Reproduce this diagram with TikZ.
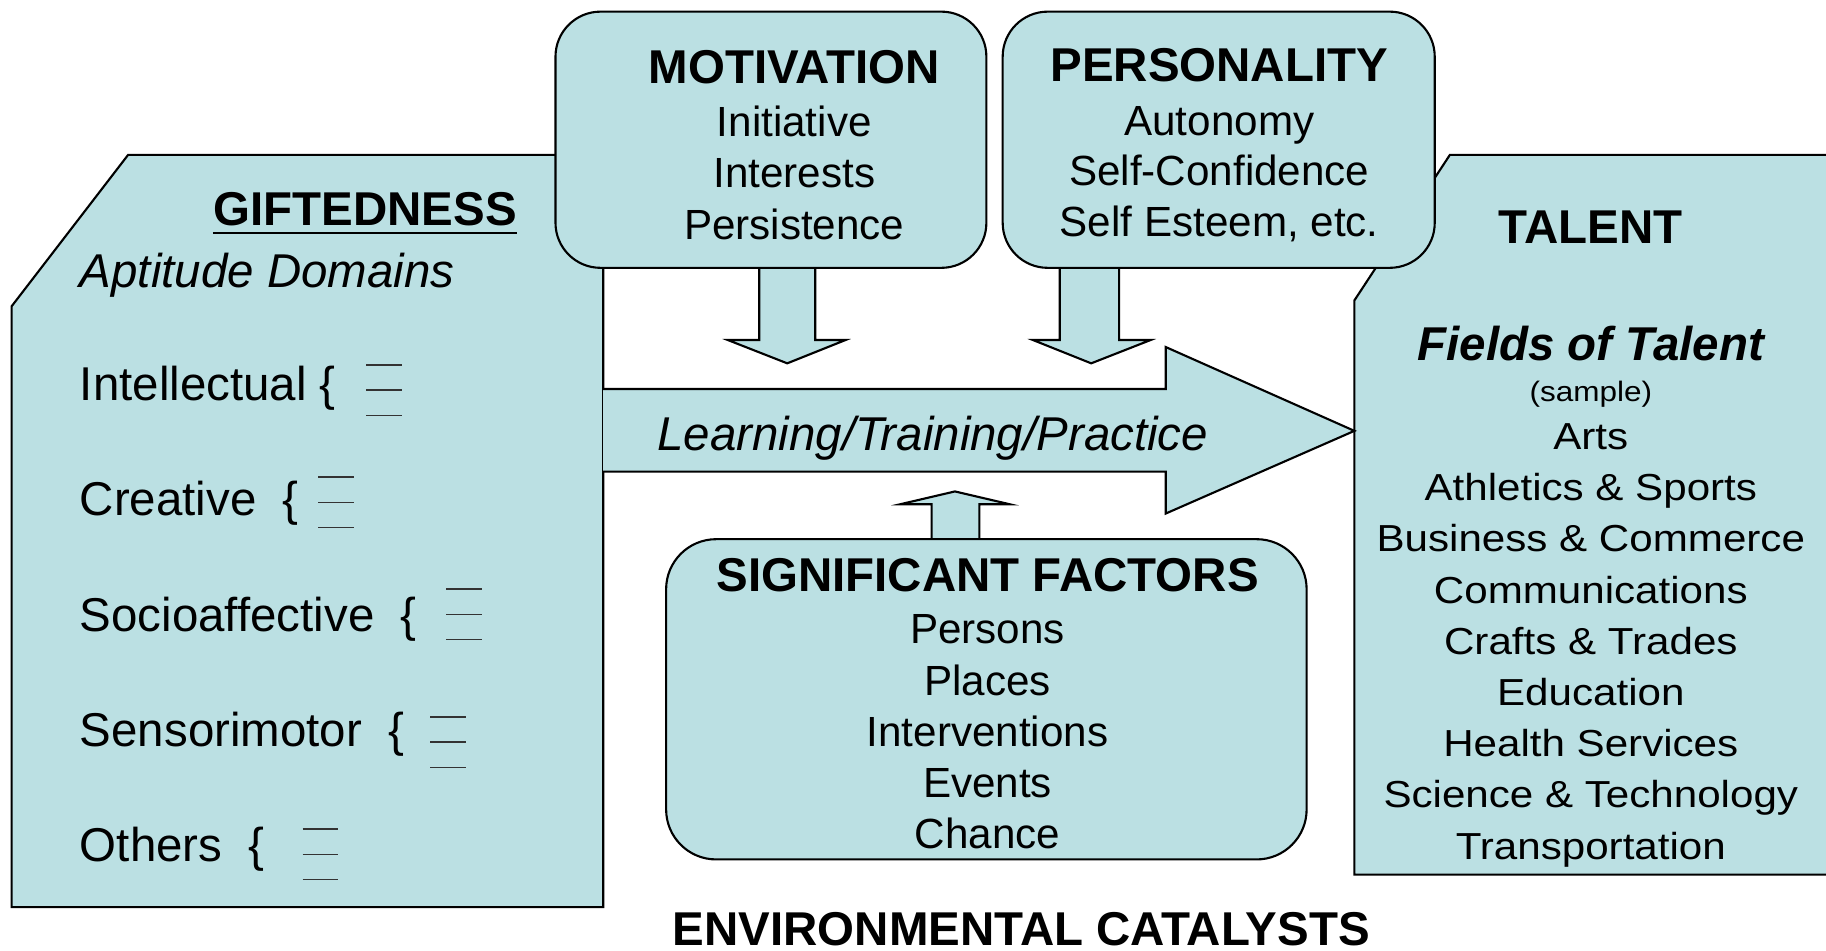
\documentclass[tikz,border=0pt]{standalone}
\usepackage{fontspec}
\setmainfont{Liberation Sans}
\newfontfamily\widefont[FakeStretch=1.12]{Liberation Sans}
\usetikzlibrary{fit,calc}
\definecolor{fillc}{RGB}{187,224,227}
\begin{document}
\begin{tikzpicture}[x=0.011645cm, y=-0.011645cm,
  shp/.style={draw=black, line width=0.6pt, fill=fillc, line join=miter},
  rbox/.style={draw=black, line width=0.6pt, fill=fillc, rounded corners=0.45cm, inner sep=0pt},
  head/.style={font=\fontsize{13.5}{16}\selectfont\bfseries, anchor=base, inner sep=0pt},
  item/.style={font=\fontsize{12}{14}\selectfont, anchor=base, inner sep=0pt},
  gitem/.style={font=\fontsize{13.5}{16}\selectfont, anchor=base west, inner sep=0pt},
  titem/.style={font=\widefont\fontsize{10.7}{13}\selectfont, anchor=base, inner sep=0pt},
  tick/.style={draw=black!80, line width=0.45pt}]
\clip (0,0) rectangle (1568,816);

% Giftedness panel
\draw[shp] (110,133) -- (518,133) -- (518,779) -- (10,779) -- (10,263) -- cycle;
\coordinate (gifted) at (264,456);
% Talent panel
\draw[shp] (1245,133) -- (1590,133) -- (1590,751) -- (1163,751) -- (1163,258) -- cycle;
\coordinate (talent) at (1366,450);

% big arrow Learning/Training/Practice
\draw[shp] (518,334) -- (1001,334) -- (1001,298) -- (1163,370) -- (1001,441) -- (1001,405) -- (518,405);

% box corners
\path (477,10) coordinate (motA) (847,230) coordinate (motB)
      (861,10) coordinate (perA) (1232,230) coordinate (perB)
      (572,463) coordinate (sigA) (1122,738) coordinate (sigB);

% down arrows
\coordinate (ma) at (676,230);
\coordinate (pa) at (935.5,230);
\draw[shp] ($(ma)+(-24,-6)$) -- ++(0,68) -- ++(-27,0) -- ++(51,20) -- ++(50,-20) -- ++(-26,0) -- ++(0,-68);
\draw[shp] ($(pa)+(-25.5,-6)$) -- ++(0,68) -- ++(-23,0) -- ++(50,20) -- ++(51,-20) -- ++(-27,0) -- ++(0,-68);
% up arrow
\coordinate (sa) at (820.5,463);
\draw[shp] ($(sa)+(-20.5,6)$) -- ++(0,-36) -- ++(-27,0) -- ++(47,-11) -- ++(47,11) -- ++(-26,0) -- ++(0,36);

\node[rbox, fit=(motA)(motB)] (mot) {};
\node[rbox, fit=(perA)(perB)] (pers) {};
\node[rbox, rounded corners=0.5cm, fit=(sigA)(sigB)] (sig) {};

% Motivation
\node[head] (motT) at (682,72) {MOTIVATION};
\node[item] (mot1) at (682,117.4) {Initiative};
\node[item] (mot2) at (682,161.4) {Interests};
\node[item] (mot3) at (682,205.4) {Persistence};
% Personality
\node[head] (perT) at (1047,70) {PERSONALITY};
\node[item] (per1) at (1047,116) {Autonomy};
\node[item] (per2) at (1047,159.5) {Self-Confidence};
\node[item] (per3) at (1047,203) {Self Esteem, etc.};

% Giftedness text
\node[head] (giftT) at (313.5,193.8) {GIFTEDNESS};
\draw[line width=0.6pt] ($(giftT.base west)+(0,6.6)$) -- ($(giftT.base east)+(0,6.6)$);
\node[gitem, font=\fontsize{13.5}{16}\selectfont\itshape] (apt) at (68,246.5) {Aptitude Domains};
\node[gitem] (g1) at (68,344) {Intellectual \{};
\node[gitem] (g2) at (68,443) {Creative~~\{};
\node[gitem] (g3) at (68,542) {Socioaffective~~\{};
\node[gitem] (g4) at (68,641) {Sensorimotor~~\{};
\node[gitem] (g5) at (68,740) {Others~~\{};
\foreach \x/\y in {314.3/335, 273.3/431.4, 383/527.6, 369.4/637.4, 259.8/733.6} {
  \foreach \d in {-21.7,0,21.7} \draw[tick] (\x,\y+\d) -- ++(30.5,0);
}

% Learning text
\node[anchor=base, inner sep=0pt, font=\fontsize{13.5}{16}\selectfont\itshape] (learn) at (801,386.5) {Learning/Training/Practice};

% Talent text
\node[head] (talT) at (1366,209.5) {TALENT};
\node[head, font=\fontsize{13.5}{16}\selectfont\bfseries\itshape] (fields) at (1366,309.5) {Fields of Talent};
\node[anchor=base, inner sep=0pt, font=\widefont\fontsize{8}{10}\selectfont] (sample) at (1366,345) {(sample)};
\node[titem] (t1) at (1366,385.8) {Arts};
\node[titem] (t2) at (1366,429.8) {Athletics \& Sports};
\node[titem] (t3) at (1366,473.8) {Business \& Commerce};
\node[titem] (t4) at (1366,517.8) {Communications};
\node[titem] (t5) at (1366,561.8) {Crafts \& Trades};
\node[titem] (t6) at (1366,605.8) {Education};
\node[titem] (t7) at (1366,649.8) {Health Services};
\node[titem] (t8) at (1366,693.8) {Science \& Technology};
\node[titem] (t9) at (1366,737.8) {Transportation};

% Significant factors
\node[head] (sigT) at (848,507.5) {SIGNIFICANT FACTORS};
\node[item] (s1) at (848,553) {Persons};
\node[item] (s2) at (848,597) {Places};
\node[item] (s3) at (848,641) {Interventions};
\node[item] (s4) at (848,685) {Events};
\node[item] (s5) at (848,729) {Chance};

% Environmental catalysts
\node[head] (env) at (877,811.5) {ENVIRONMENTAL CATALYSTS};
\end{tikzpicture}
\end{document}
